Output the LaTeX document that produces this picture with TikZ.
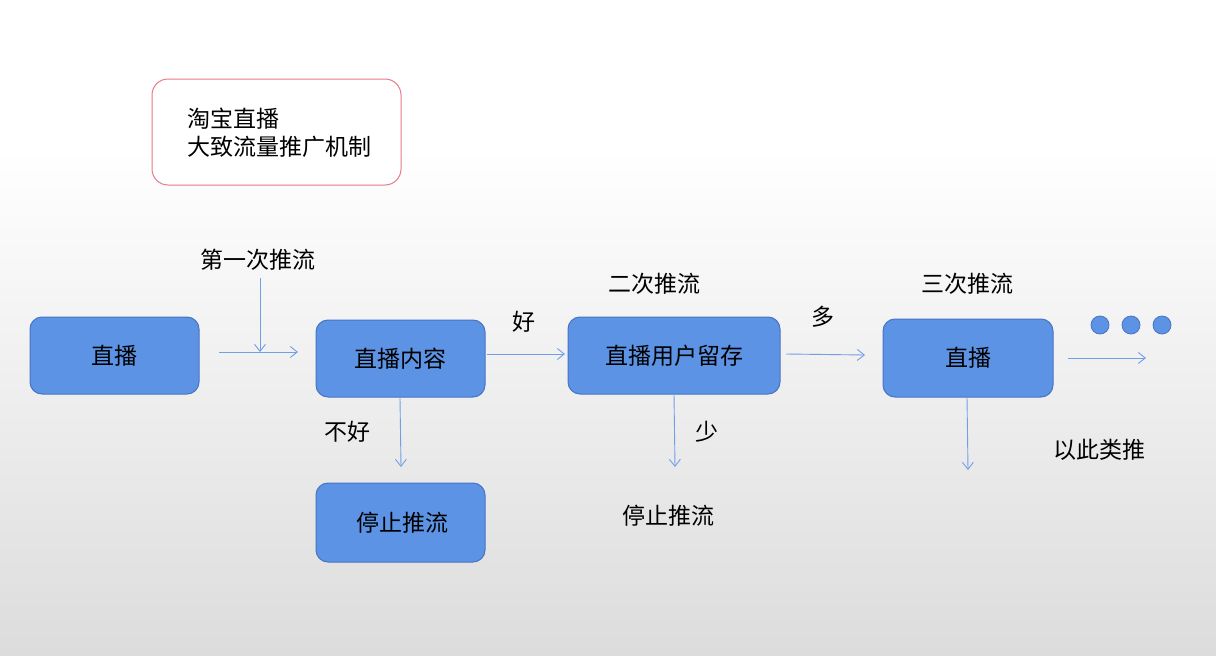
\documentclass[tikz,border=0pt]{standalone}
\usepackage{fontspec}
\setmainfont{Noto Sans CJK SC}
\usetikzlibrary{arrows.meta}
\definecolor{boxfill}{RGB}{92,147,228}
\definecolor{boxline}{RGB}{72,116,196}
\definecolor{arrowc}{RGB}{112,158,232}
\definecolor{titleline}{RGB}{232,120,138}
\definecolor{bgbottom}{RGB}{220,220,220}
\begin{document}
\begin{tikzpicture}[x=1pt,y=-1pt,
  bluebox/.style={draw=boxline, fill=boxfill, line width=1pt, rounded corners=12pt, inner sep=0pt, font=\fontsize{23}{27}\selectfont},
  lbl/.style={inner sep=0pt, font=\fontsize{23}{27}\selectfont},
  conn/.style={draw=arrowc, line width=0.9pt, -{Straight Barb[length=7pt,width=11pt]}},
  dot/.style={circle, draw=boxline, fill=boxfill, line width=0.8pt, minimum size=18pt, inner sep=0pt}]
\useasboundingbox (0,0) rectangle (1216,656);
\fill[white] (0,0) rectangle (1216,150);
\shade[top color=white, bottom color=bgbottom] (0,149.5) rectangle (1216,656);
% title
\node[draw=titleline, fill=white, line width=1pt, rounded corners=16pt, minimum width=249pt, minimum height=106pt, inner sep=0pt] (title) at (276.5,132) {};
\node[lbl, anchor=west, align=left, font=\fontsize{23}{28}\selectfont] (titletext) at (187,133) {淘宝直播\\大致流量推广机制};
% boxes
\node[bluebox, minimum width=169pt, minimum height=77pt] (b1) at (114.5,355.5) {直播};
\node[bluebox, minimum width=169pt, minimum height=77pt] (b2) at (400.5,358.5) {直播内容};
\node[bluebox, minimum width=212pt, minimum height=77pt] (b3) at (674,355.5) {直播用户留存};
\node[bluebox, minimum width=170pt, minimum height=78pt] (b4) at (968,358) {直播};
\node[bluebox, minimum width=169pt, minimum height=79pt] (b5) at (400.5,522.5) {\hspace*{4pt}停止推流};
% dots
\node[dot] (d1) at (1100,325) {};
\node[dot] (d2) at (1131,325) {};
\node[dot] (d3) at (1162,325) {};
% labels
\node[lbl] (l1) at (258,260) {第一次推流};
\node[lbl] (l2) at (524,322) {好};
\node[lbl] (l3) at (654,284) {二次推流};
\node[lbl] (l4) at (823,317) {多};
\node[lbl] (l5) at (967,284) {三次推流};
\node[lbl] (l6) at (347,432) {不好};
\node[lbl] (l7) at (707,432) {少};
\node[lbl] (l8) at (668,516) {停止推流};
\node[lbl] (l9) at (1099,450) {以此类推};
% connector endpoints
\coordinate (a1s) at (219,352);
\coordinate (a1e) at (298,352);
\coordinate (v1s) at (260,278);
\coordinate (v1e) at (260,352);
\coordinate (a2s) at (487,354);
\coordinate (a2e) at (565,354);
\coordinate (a3s) at (786,354);
\coordinate (a3e) at (865,355);
\coordinate (a4s) at (1068,358);
\coordinate (a4e) at (1146,358);
\coordinate (d2s) at (400,398);
\coordinate (d2e) at (401,467);
\coordinate (d3s) at (674,394);
\coordinate (d3e) at (675,467);
\coordinate (d4s) at (967,397);
\coordinate (d4e) at (968,470);
% connectors
\draw[conn] (a1s) -- (a1e);
\draw[conn] (v1s) -- (v1e);
\draw[conn] (a2s) -- (a2e);
\draw[conn] (a3s) -- (a3e);
\draw[conn] (a4s) -- (a4e);
\draw[conn] (d2s) -- (d2e);
\draw[conn] (d3s) -- (d3e);
\draw[conn] (d4s) -- (d4e);
\end{tikzpicture}
\end{document}
